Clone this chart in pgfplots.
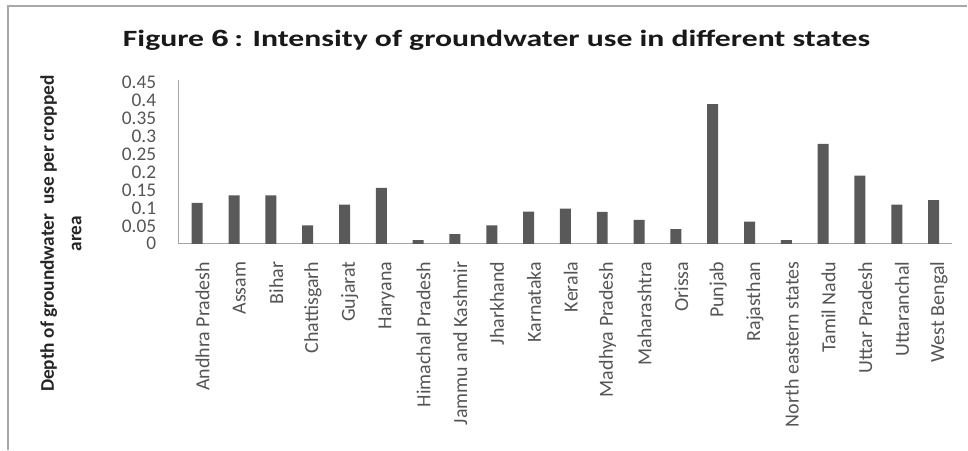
\documentclass[border=0pt]{standalone}
\usepackage{pgfplots}
\pgfplotsset{compat=1.18}
\usepackage{fontspec}
\setmainfont{Carlito}
\newfontfamily\arialf{Liberation Sans}
\definecolor{barc}{HTML}{595959}
\definecolor{axc}{HTML}{A6A6A6}
\definecolor{txc}{HTML}{555555}
\definecolor{frc}{HTML}{A8A8A8}
\begin{document}
\begin{tikzpicture}
\fill[white] (0,0) rectangle (726pt,-337.5pt);
\draw[frc, line width=1.5pt] (6pt,-337.5pt) -- (6pt,-4.5pt) -- (726pt,-4.5pt);
\node[font=\fontsize{17.5}{20}\selectfont\bfseries, text=black!90, xscale=1.36] at (372.75pt,-30pt) {Figure {\arialf\bfseries 6}\,: Intensity of groundwater use in different states};
\node[rotate=90, align=center, font=\fontsize{14.5}{20.5}\selectfont\bfseries, text=black!85] at (45.75pt,-175.5pt) {Depth of groundwater \ use per cropped\\area};
\begin{axis}[
  at={(134.25pt,-183pt)}, anchor=south west,
  scale only axis, width=580.5pt, height=123pt,
  xmin=-0.5, xmax=20.5, ymin=0, ymax=0.4575,
  axis x line=bottom, axis y line=left,
  axis line style={axc, line width=0.8pt, -},
  ytick={0,0.05,0.1,0.15,0.2,0.25,0.3,0.35,0.4,0.45},
  xtick=data,
  xticklabels={Andhra Pradesh,Assam,Bihar,Chattisgarh,Gujarat,Haryana,Himachal Pradesh,Jammu and Kashmir,Jharkhand,Karnataka,Kerala,Madhya Pradesh,Maharashtra,Orissa,Punjab,Rajasthan,North eastern states,Tamil Nadu,Uttar Pradesh,Uttaranchal,West Bengal},
  major tick length=0pt,
  yticklabel style={font=\fontsize{14.5}{16}\selectfont, text=txc, anchor=east, xshift=-13.5pt},
  xticklabel style={font=\fontsize{15}{17}\selectfont, text=txc, xshift=4pt, rotate=90, anchor=east},
  xticklabel shift=10pt,
  /pgf/number format/.cd, fixed, precision=2, assume math mode=true,
]
\addplot[ybar, bar width=8.25pt, fill=barc, draw=none] coordinates {
(0,0.114) (1,0.135) (2,0.135) (3,0.051) (4,0.109) (5,0.156) (6,0.010)
(7,0.027) (8,0.051) (9,0.090) (10,0.098) (11,0.089) (12,0.067) (13,0.041)
(14,0.390) (15,0.062) (16,0.010) (17,0.279) (18,0.190) (19,0.109) (20,0.122)
};
\end{axis}
\end{tikzpicture}
\end{document}
